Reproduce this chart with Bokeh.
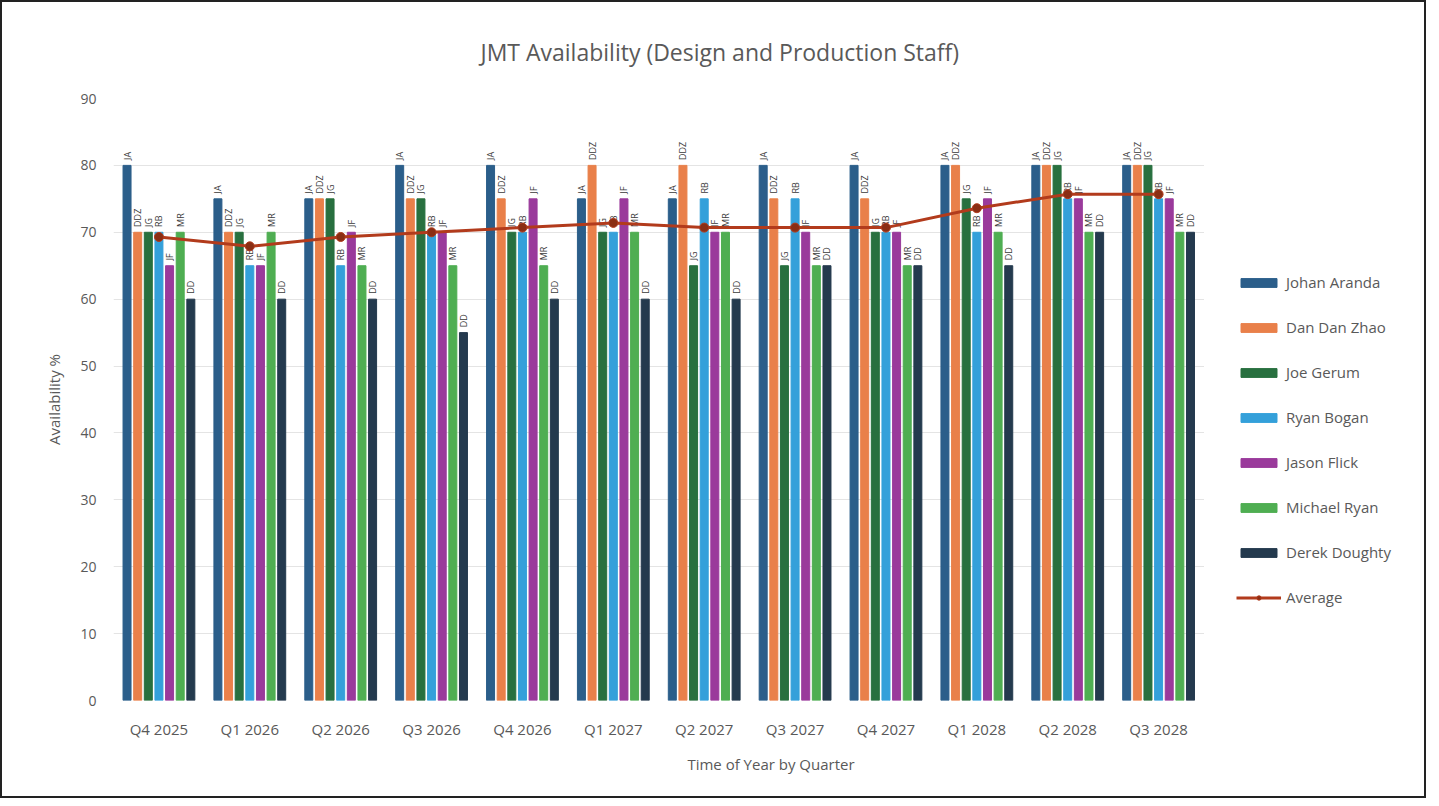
import math
from bokeh.plotting import figure
from bokeh.models import (ColumnDataSource, Legend, LegendItem, Title, FixedTicker,
                          Range1d, BoxAnnotation)
from bokeh.core.properties import value
from bokeh.embed import file_html
from bokeh.resources import INLINE

quarters = ["Q4 2025", "Q1 2026", "Q2 2026", "Q3 2026", "Q4 2026", "Q1 2027",
            "Q2 2027", "Q3 2027", "Q4 2027", "Q1 2028", "Q2 2028", "Q3 2028"]

johan_aranda = [80, 75, 75, 80, 80, 75, 75, 80, 80, 80, 80, 80]
dan_dan_zhao = [70, 70, 75, 75, 75, 80, 80, 75, 75, 80, 80, 80]
joe_gerum = [70, 70, 75, 75, 70, 70, 65, 65, 70, 75, 80, 80]
ryan_bogan = [70, 65, 65, 70, 70, 70, 75, 75, 70, 70, 75, 75]
jason_flick = [65, 65, 70, 70, 75, 75, 70, 70, 70, 75, 75, 75]
michael_ryan = [70, 70, 65, 65, 65, 70, 70, 65, 65, 70, 70, 70]
derek_doughty = [60, 60, 60, 55, 60, 60, 60, 65, 65, 65, 70, 70]
average = [69.3, 67.9, 69.3, 70.0, 70.7, 71.4, 70.7, 70.7, 70.7, 73.6, 75.7, 75.7]

names = ["Johan Aranda", "Dan Dan Zhao", "Joe Gerum", "Ryan Bogan",
         "Jason Flick", "Michael Ryan", "Derek Doughty"]
initials = ["JA", "DDZ", "JG", "RB", "JF", "MR", "DD"]
series = [johan_aranda, dan_dan_zhao, joe_gerum, ryan_bogan,
          jason_flick, michael_ryan, derek_doughty]
colors = ["#2B5E8A", "#E9804A", "#28703F", "#34A0DA", "#9A3A9B", "#4FAE52", "#243A4E"]

FONT = "Open Sans"
GRAY = "#595959"

idx = list(range(len(quarters)))
n_cat = len(quarters)

# numeric category axis; extra room on the right holds the legend
p = figure(x_range=Range1d(-0.5, 13.97), y_range=(0, 90), width=1426, height=798,
           output_backend="svg", toolbar_location=None,
           min_border_left=111, min_border_right=0, min_border_top=95,
           min_border_bottom=100)
p.styles = {"border": "2px solid #222"}
p.outline_line_color = None
p.background_fill_color = "white"
p.border_fill_color = "white"

title = Title(text="JMT Availability (Design and Production Staff)",
              align="left", offset=367, text_font=FONT,
              text_font_size="23px", text_color=GRAY,
              text_font_style="normal", standoff=62)
p.add_layout(title, "above")

pitch = 0.117
width = 0.088
legend_items = []
for i, (nm, ini, vals, col) in enumerate(zip(names, initials, series, colors)):
    off = (i - 3) * pitch
    src = ColumnDataSource(dict(x=[k + off for k in idx], v=vals,
                                lab=[ini] * len(vals),
                                ly=[v + 0.8 for v in vals]))
    r = p.vbar(x="x", top="v", width=width, source=src,
               fill_color=col, line_color=col)
    p.text(x="x", y="ly", text="lab", source=src,
           angle=math.pi / 2, text_align="left", text_baseline="middle",
           text_font_size="9px", text_color="#3A3A3A", text_font=value(FONT))
    legend_items.append(LegendItem(label=nm, renderers=[r]))

avg_src = ColumnDataSource(dict(x=idx, v=average))
l = p.line(x="x", y="v", source=avg_src, line_color="#B23B1C", line_width=3)
c = p.scatter(x="x", y="v", source=avg_src, size=9, fill_color="#8A2E14",
              line_color="#B23B1C")
legend_items.append(LegendItem(label="Average", renderers=[l, c]))

# white panel to the right of the plot area (legend area, no gridlines)
p.add_layout(BoxAnnotation(left=n_cat - 0.5, fill_color="white", fill_alpha=1,
                           line_color=None))

legend = Legend(items=legend_items, location=(1123, 93),
                glyph_width=45, glyph_height=11, label_text_font=FONT,
                label_text_font_size="15px", label_text_color=GRAY,
                label_height=20, spacing=25, padding=0, margin=0,
                border_line_color=None, background_fill_alpha=0,
                label_standoff=5)
p.add_layout(legend, "center")

p.xaxis.ticker = FixedTicker(ticks=idx)
p.xaxis.major_label_overrides = {k: q for k, q in zip(idx, quarters)}
p.yaxis.ticker = FixedTicker(ticks=list(range(0, 91, 10)))
for ax in (p.xaxis, p.yaxis):
    ax.axis_line_color = None
    ax.major_tick_line_color = None
    ax.minor_tick_line_color = None
    ax.major_label_text_font = FONT
    ax.major_label_text_color = GRAY
    ax.axis_label_text_font = FONT
    ax.axis_label_text_font_size = "15px"
    ax.axis_label_text_color = GRAY
    ax.axis_label_text_font_style = "normal"
p.xaxis.major_label_text_font_size = "15px"
p.yaxis.major_label_text_font_size = "14px"

p.yaxis.axis_label = "Availability %"
p.xaxis.axis_label = "Time of Year by Quarter"
p.yaxis.major_label_standoff = 11
p.xaxis.major_label_standoff = 12
p.xaxis.axis_label_standoff = 12
p.yaxis.axis_label_standoff = 13

p.xgrid.grid_line_color = None
p.ygrid.grid_line_color = "#E4E4E4"

open("out.html", "w").write(file_html(p, INLINE))
